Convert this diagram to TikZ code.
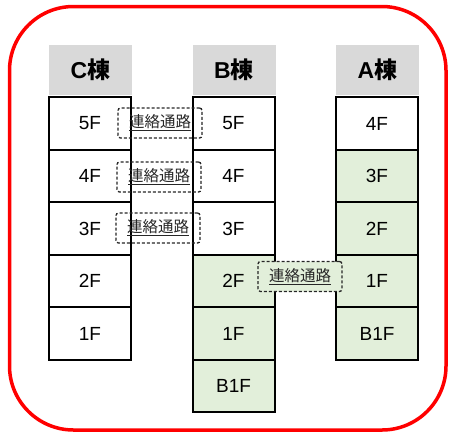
\documentclass[tikz,border=0pt]{standalone}
\usepackage{fontspec}
\setmainfont{Liberation Sans}
\newfontfamily\jp{Noto Sans CJK JP}
\usepackage{xcolor}
\definecolor{cellgreen}{HTML}{E2EFDA}
\definecolor{hdrgray}{HTML}{D9D9D9}
\definecolor{ringred}{HTML}{FF0000}
\begin{document}
\begin{tikzpicture}[x=1pt,y=-1pt,
  hdr/.style={fill=hdrgray, draw=none, minimum width=83pt, minimum height=50pt, inner sep=0pt,
    font=\fontsize{23}{23}\selectfont\bfseries},
  floor/.style={draw=black, line width=2pt, fill=white, minimum width=82pt, minimum height=52.5pt, inner sep=0pt,
    font=\fontsize{19}{19}\selectfont},
  gfloor/.style={floor, fill=cellgreen},
  link/.style={draw=black!85, dashed, dash pattern=on 3pt off 2pt, line width=1.3pt, rounded corners=2.5pt,
    minimum width=84pt, minimum height=30pt, inner sep=0pt,
    font=\jp\fontsize{15.5}{15.5}\selectfont, text=black!85},
  glink/.style={link, fill=cellgreen}
]
\useasboundingbox (0,0) rectangle (449,437);
\draw[ringred, line width=3.5pt, rounded corners=64pt] (9.5,6.5) rectangle (446,430);

% headers
\node[hdr] (hc) at (90.5,70) {C{\jp 棟}};
\node[hdr] (hb) at (234,70) {B{\jp 棟}};
\node[hdr] (ha) at (377.5,70) {A{\jp 棟}};

% C building
\node[floor] (c5) at (90,123.5) {5F};
\node[floor] (c4) at (90,176) {4F};
\node[floor] (c3) at (90,228.5) {3F};
\node[floor] (c2) at (90,281) {2F};
\node[floor] (c1) at (90,333.5) {1F};

% B building
\node[floor] (b5) at (233.5,123.5) {5F};
\node[floor] (b4) at (233.5,176) {4F};
\node[floor] (b3) at (233.5,228.5) {3F};
\node[gfloor] (b2) at (233.5,281) {2F};
\node[gfloor] (b1) at (233.5,333.5) {1F};
\node[gfloor] (bb1) at (233.5,386) {B1F};

% A building
\node[floor] (a4) at (377,123.5) {4F};
\node[gfloor] (a3) at (377,176) {3F};
\node[gfloor] (a2) at (377,228.5) {2F};
\node[gfloor] (a1) at (377,281) {1F};
\node[gfloor] (ab1) at (377,333.5) {B1F};

% links
\node[link] (l5) at (160,123) {\underline{連絡通路}};
\node[link] (l4) at (159,177) {\underline{連絡通路}};
\node[link] (l3) at (158,228) {\underline{連絡通路}};
\node[glink] (l2) at (300,276.5) {\underline{連絡通路}};
\end{tikzpicture}
\end{document}
